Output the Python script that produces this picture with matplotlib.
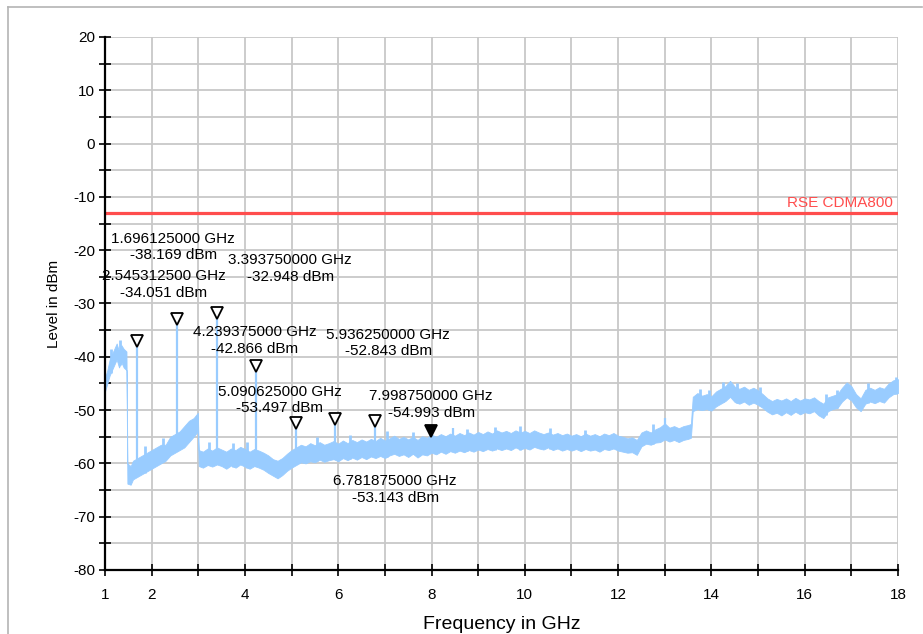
import numpy as np
import matplotlib
matplotlib.use("Agg")
import matplotlib.pyplot as plt
from matplotlib.transforms import offset_copy
from matplotlib.lines import Line2D

plt.rcParams['font.family'] = ['Liberation Sans', 'DejaVu Sans']
plt.rcParams['axes.unicode_minus'] = False

# ---- trace envelope (frequency in GHz, level in dBm) ----
trace_freq = [1.00, 1.05, 1.10, 1.15, 1.20, 1.25, 1.30, 1.35, 1.40, 1.46,
              1.48, 1.55, 1.60, 1.70, 1.80, 1.90, 2.00, 2.10, 2.20, 2.30, 2.40, 2.50,
              2.60, 2.70, 2.80, 2.90, 2.99,
              3.01, 3.1, 3.2, 3.3, 3.4, 3.5, 3.6, 3.7, 3.8, 3.9,
              4.0, 4.1, 4.2, 4.3, 4.4, 4.5, 4.6, 4.7, 4.8, 4.9,
              5.0, 5.1, 5.2, 5.3, 5.4, 5.5, 5.6, 5.7, 5.8, 5.9,
              6.0, 6.1, 6.2, 6.3, 6.4, 6.5, 6.6, 6.7, 6.8, 6.9,
              7.0, 7.1, 7.2, 7.3, 7.4, 7.5, 7.6, 7.7, 7.8, 7.9,
              8.0, 8.1, 8.2, 8.3, 8.4, 8.5, 8.6, 8.7, 8.8, 8.9,
              9.0, 9.1, 9.2, 9.3, 9.4, 9.5, 9.6, 9.7, 9.8, 9.9,
              10.0, 10.1, 10.2, 10.3, 10.4, 10.5, 10.6, 10.7, 10.8, 10.9,
              11.0, 11.1, 11.2, 11.3, 11.4, 11.5, 11.6, 11.7, 11.8, 11.9,
              12.0, 12.1, 12.2, 12.3, 12.4, 12.5, 12.6, 12.7, 12.8, 12.9,
              13.0, 13.1, 13.2, 13.3, 13.4, 13.5, 13.56,
              13.6, 13.7, 13.8, 13.9,
              14.0, 14.1, 14.2, 14.3, 14.4, 14.5, 14.6, 14.7, 14.8, 14.9,
              15.0, 15.1, 15.2, 15.3, 15.4, 15.5, 15.6, 15.7, 15.8, 15.9,
              16.0, 16.1, 16.2, 16.3, 16.4, 16.5, 16.6, 16.7, 16.8, 16.9,
              17.0, 17.1, 17.2, 17.3, 17.4, 17.5, 17.6, 17.7, 17.8, 17.9, 18.0]

trace_hi = [-44.0, -42.5, -40.5, -39.5, -38.5, -37.5, -39.0, -37.8, -38.5, -39.0,
            -60.0, -60.5, -59.5, -59.0, -58.5, -58.0, -57.5, -57.0, -56.5, -56.5, -55.0, -54.5,
            -54.0, -53.0, -52.0, -51.5, -50.5,
            -57.5, -57.8, -57.2, -57.6, -57.0, -57.4, -57.8, -57.2, -57.5, -56.9,
            -57.3, -57.8, -57.3, -57.6, -58.0, -58.5, -59.2, -59.5, -59.0, -58.2,
            -57.5, -57.0, -56.5, -56.8, -56.2, -56.6, -56.0, -56.5, -56.2, -55.8,
            -56.3, -55.7, -56.2, -55.6, -56.0, -55.5, -55.9, -55.4, -55.8, -55.2,
            -55.7, -55.3, -54.8, -55.4, -55.0, -55.5, -55.0, -55.6, -54.9, -55.2,
            -54.6, -55.0, -54.5, -54.9, -54.4, -54.8, -54.3, -54.7, -54.2, -54.6,
            -54.1, -54.5, -54.0, -54.4, -53.8, -54.2, -53.9, -54.3, -53.8, -54.2,
            -53.9, -54.3, -53.8, -54.2, -54.5, -54.2, -54.6, -54.3, -54.7, -54.4,
            -54.8, -54.5, -54.9, -54.4, -54.8, -54.5, -54.9, -54.4, -54.7, -54.3,
            -54.8, -55.0, -55.3, -55.1, -55.6, -54.2, -53.8, -54.2, -53.6, -53.2,
            -52.5, -53.3, -53.0, -53.4, -53.0, -52.8, -52.6,
            -47.5, -46.8, -47.3, -47.0,
            -47.4, -46.5, -46.0, -45.5, -44.5, -45.6, -46.0, -45.6, -46.2, -45.8,
            -46.3, -47.0, -47.8, -48.3, -47.9, -48.2, -47.8, -48.3, -47.7, -48.2,
            -47.8, -48.0, -47.6, -48.3, -48.8, -47.6, -47.3, -47.0, -45.8, -44.8,
            -45.5, -47.0, -47.8, -46.2, -45.8, -46.2, -45.7, -46.0, -45.0, -44.4, -44.2]

trace_lo = [-46.5, -45.0, -43.5, -42.5, -41.5, -40.5, -42.0, -41.0, -42.0, -42.5,
            -63.8, -64.0, -63.0, -62.5, -62.0, -61.5, -61.0, -60.5, -60.0, -59.5, -58.5, -58.0,
            -57.5, -57.0, -56.0, -55.0, -54.0,
            -60.5, -60.8, -60.3, -60.6, -60.2, -60.5, -61.0, -60.4, -60.8, -60.2,
            -60.6, -61.0, -60.5, -60.8, -61.2, -61.8, -62.3, -62.8, -62.2, -61.4,
            -60.8, -60.3, -59.8, -60.0, -59.6, -59.8, -59.3, -59.7, -59.4, -59.2,
            -59.6, -59.0, -59.4, -58.9, -59.3, -58.8, -59.2, -58.7, -59.0, -58.6,
            -59.0, -58.5, -58.2, -58.6, -58.3, -58.8, -58.2, -58.9, -58.3, -58.5,
            -58.0, -58.3, -57.8, -58.2, -57.7, -58.0, -57.6, -57.9, -57.5, -57.8,
            -57.4, -57.7, -57.3, -57.6, -57.2, -57.5, -57.2, -57.5, -57.0, -57.4,
            -57.1, -57.4, -56.9, -57.2, -57.4, -57.0, -57.5, -57.2, -57.6, -57.3,
            -57.6, -57.3, -57.7, -57.3, -57.6, -57.4, -57.8, -57.3, -57.5, -57.2,
            -57.6, -57.8, -58.0, -57.9, -58.4, -56.8, -56.3, -56.5, -56.1, -56.0,
            -55.5, -55.9, -55.6, -56.0, -55.6, -55.4, -55.2,
            -50.2, -49.8, -50.0, -49.8,
            -50.1, -49.3, -48.8, -48.3, -47.5, -48.5, -48.8, -48.4, -49.0, -48.6,
            -49.0, -49.6, -50.3, -50.8, -50.5, -51.0, -50.4, -50.9, -50.3, -50.8,
            -50.4, -50.6, -50.2, -51.0, -51.5, -50.2, -49.8, -49.6, -48.4, -47.6,
            -48.2, -49.5, -50.2, -48.8, -48.4, -48.7, -48.3, -48.6, -47.6, -47.0, -46.8]

# ---- narrow spurs on the trace ----
spur_freq = [1.696125, 2.5453125, 3.39375, 4.239375, 5.090625, 5.93625, 6.781875, 8.47, 13.0]
spur_peak = [-38.169, -34.051, -32.948, -42.866, -53.497, -52.843, -53.143, -53.4, -51.4]

# ---- small noise excursions visible above the trace ----
noise_freq = [1.12, 1.32, 1.85, 2.25, 3.22, 3.75, 4.05, 5.55, 6.25, 7.05, 7.6, 8.75,
              9.35, 9.9, 10.55, 11.3, 12.75, 13.75, 13.95, 14.25, 14.55, 15.05, 16.45,
              16.7, 17.35, 17.95]
noise_peak = [-38.5, -36.8, -56.8, -55.2, -56.0, -56.2, -56.0, -55.0, -54.6, -54.0, -54.2, -53.6,
              -53.2, -53.0, -53.4, -53.8, -52.6, -46.0, -46.2, -44.8, -45.0, -45.6, -47.0,
              -46.2, -45.0, -43.8]

# ---- markers ----
marker_freq = [1.696125, 2.5453125, 3.39375, 4.239375, 5.090625, 5.93625, 6.781875, 7.99875]
marker_level = [-38.169, -34.051, -32.948, -42.866, -53.497, -52.843, -53.143, -54.993]
marker_labels = ["1.696125000 GHz\n-38.169 dBm",
                 "2.545312500 GHz\n-34.051 dBm",
                 "3.393750000 GHz\n-32.948 dBm",
                 "4.239375000 GHz\n-42.866 dBm",
                 "5.090625000 GHz\n-53.497 dBm",
                 "5.936250000 GHz\n-52.843 dBm",
                 "6.781875000 GHz\n-53.143 dBm",
                 "7.998750000 GHz\n-54.993 dBm"]
label_pos = [(2.46, -19.4), (2.265, -26.4), (4.97, -23.4), (4.215, -37.0),
             (4.75, -48.1), (7.07, -37.4), (7.22, -64.9), (7.99, -49.0)]

limit_level = -13
limit_name = "RSE CDMA800"

x_major = [1, 2, 4, 6, 8, 10, 12, 14, 16, 18]

fig = plt.figure(figsize=(9.23, 6.34), dpi=100)
ax = fig.add_axes([105/923, 1 - 570/634, (898-105)/923, (570-37)/634])

trace_color = '#99CCFF'
ax.fill_between(trace_freq, trace_lo, trace_hi, color=trace_color, lw=0.6,
                edgecolor=trace_color, zorder=3)
spur_base = np.interp(spur_freq, trace_freq, trace_lo)
ax.vlines(spur_freq, spur_base, spur_peak, color=trace_color, lw=1.6, zorder=3)
noise_base = np.interp(noise_freq, trace_freq, trace_lo)
ax.vlines(noise_freq, noise_base, noise_peak, color=trace_color, lw=2.0, zorder=3)

# limit line
ax.axhline(limit_level, color='#FF4D4D', lw=2.3, zorder=4)
ax.text(17.9, limit_level + 0.6, limit_name, color='#FF4D4D', fontsize=11,
        ha='right', va='bottom', zorder=5)

# markers
trans_off = offset_copy(ax.transData, fig=fig, x=0, y=6, units='dots')
for i, (f, lv) in enumerate(zip(marker_freq, marker_level)):
    fc = 'black' if i == len(marker_freq) - 1 else 'white'
    ax.plot([f], [lv], marker='v', ms=9, mfc=fc, mec='black', mew=1.3,
            transform=trans_off, zorder=6, clip_on=False)
for lab, (tx, ty) in zip(marker_labels, label_pos):
    ax.text(tx, ty, lab, fontsize=11, ha='center', va='center',
            multialignment='center', linespacing=1.25, zorder=7)

ax.set_xlim(1, 18)
ax.set_ylim(-80, 20)
ax.set_xticks(x_major)
ax.set_xticks(range(1, 19), minor=True)
ax.set_yticks(range(-80, 21, 10))
ax.set_yticks(range(-80, 21, 5), minor=True)
ax.grid(True, which='both', color='#C8C8C8', lw=1.3, zorder=0)
ax.set_axisbelow(True)

for s in ['top', 'right']:
    ax.spines[s].set_visible(False)
for s in ['left', 'bottom']:
    ax.spines[s].set_linewidth(1.6)
    ax.spines[s].set_color('black')
    ax.spines[s].set_zorder(8)

ax.tick_params(which='both', direction='inout', length=8, width=1.2, color='black',
               labelsize=11)
ax.tick_params(axis='x', which='both', pad=9)
ax.tick_params(axis='y', which='both', pad=3)

ax.set_xlabel('Frequency in GHz', fontsize=14, labelpad=10)
ax.set_ylabel('Level in dBm', fontsize=11, labelpad=9)

# outer frame (top and left)
fig.add_artist(Line2D([8/923, 922/923], [1 - 7/634, 1 - 7/634], color='#B4B4B4', lw=1.2))
fig.add_artist(Line2D([8/923, 8/923], [0, 1 - 7/634], color='#B4B4B4', lw=1.2))

fig.savefig('out.png', dpi=100)
